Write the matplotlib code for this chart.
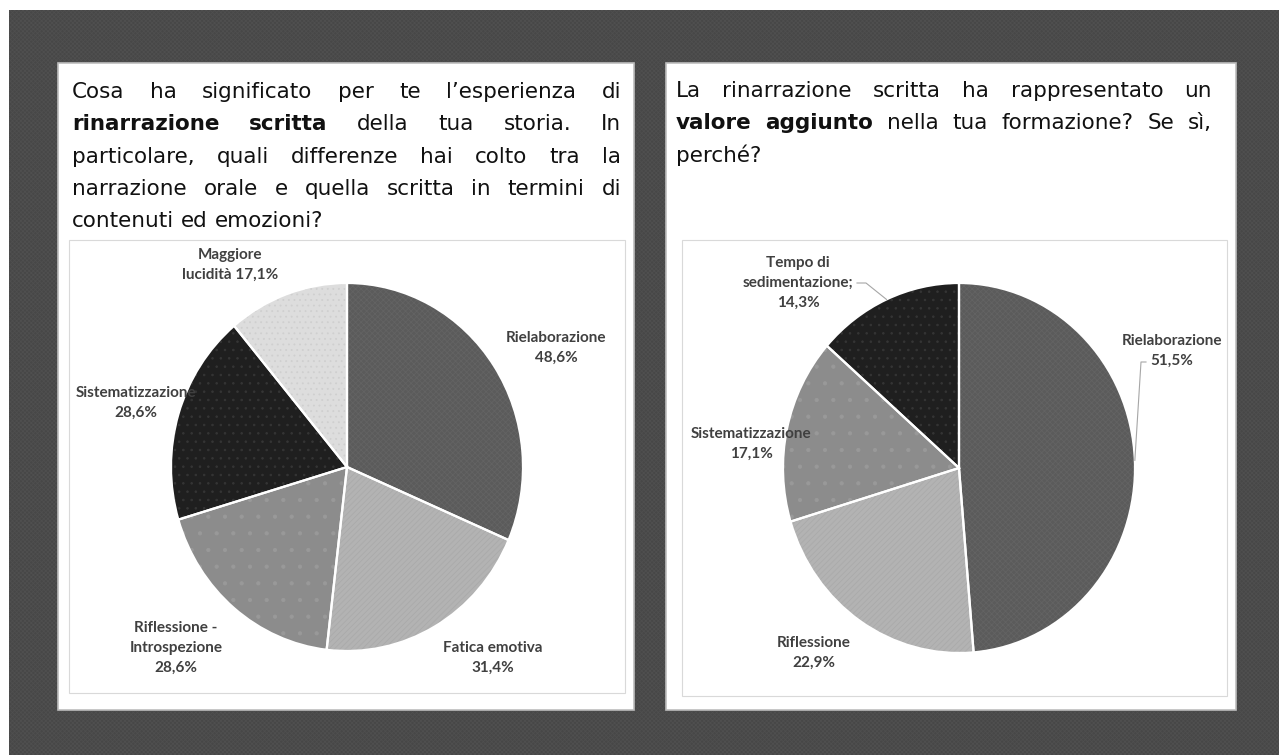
import matplotlib
matplotlib.use("Agg")
import matplotlib.pyplot as plt
from matplotlib.patches import Rectangle, Wedge
import numpy as np

# --- data -------------------------------------------------------------
left_names = ["Rielaborazione", "Fatica emotiva", "Riflessione -\nIntrospezione",
              "Sistematizzazione", "Maggiore\nlucidità"]
left_values = [48.6, 31.4, 28.6, 28.6, 17.1]
left_seps = ["\n", "\n", "\n", "\n", " "]

right_names = ["Rielaborazione", "Riflessione", "Sistematizzazione",
               "Tempo di\nsedimentazione;"]
right_values = [51.5, 22.9, 17.1, 14.3]
right_seps = ["\n", "\n", "\n", "\n"]

# '*' marks a bold word, second item says whether the line is justified
left_heading = [
    ("Cosa ha significato per te l’esperienza di", True),
    ("*rinarrazione *scritta della tua storia. In", True),
    ("particolare, quali differenze hai colto tra la", True),
    ("narrazione orale e quella scritta in termini di", True),
    ("contenuti ed emozioni?", False),
]
right_heading = [
    ("La rinarrazione scritta ha rappresentato un", True),
    ("*valore *aggiunto nella tua formazione? Se sì,", True),
    ("perché?", False),
]

# --- styling ----------------------------------------------------------
# fill colour, hatch, hatch colour
left_style = [("#5b5b5b", "xxxxxx", "#636363"),
              ("#b3b3b3", "//////", "#aaaaaa"),
              ("#8c8c8c", ".", "#999999"),
              ("#1f1f1f", "..", "#353535"),
              ("#dddddd", "...", "#cfcfcf")]
right_style = [left_style[0], left_style[1], left_style[2], left_style[3]]

# label centres in pixels
left_label_px = [(556, 348), (493, 658), (176, 648), (136, 403), (230, 265)]
right_label_px = [(1172, 351), (814, 653), (751, 444), (798, 283)]
# leader line points (pixels), ending on the slice edge
right_leaders = {0: [(1146, 362), (1141, 362)], 3: [(857, 283), (866, 283)]}

W, H = 1279, 755
plt.rcParams["hatch.linewidth"] = 0.6
fig = plt.figure(figsize=(W / 100, H / 100), dpi=100)
fig.patch.set_facecolor("white")


def fx(x):
    return x / W


def fy(y):
    return 1 - y / H


def box(x0, y0, x1, y1, z, **kw):
    fig.add_artist(Rectangle((fx(x0), fy(y1)), fx(x1) - fx(x0), fy(y0) - fy(y1),
                             transform=fig.transFigure, zorder=z, **kw))


# dark textured backdrop and the two white cards
box(9, 10, W, H, -3, facecolor="#474747", edgecolor="#4f4f4f", hatch="xxxxxxxx", lw=0)
box(58, 63, 634, 710, -2, facecolor="white", edgecolor="#bdbdbd", lw=1.2)
box(666, 63, 1236, 710, -2, facecolor="white", edgecolor="#bdbdbd", lw=1.2)
box(69, 240, 625, 693, -1, facecolor="none", edgecolor="#d9d9d9", lw=0.8)
box(682, 240, 1227, 696, -1, facecolor="none", edgecolor="#d9d9d9", lw=0.8)

renderer = fig.canvas.get_renderer()


def heading(lines, x0, x1, y_base, pitch, size=15.5):
    probe = fig.text(0, 0, "a a", fontsize=size)
    probe2 = fig.text(0, 0, "aa", fontsize=size)
    space = probe.get_window_extent(renderer).width - probe2.get_window_extent(renderer).width
    probe.remove()
    probe2.remove()
    for i, (line, justify) in enumerate(lines):
        y = fy(y_base + i * pitch)
        arts = []
        for word in line.split():
            bold = word.startswith("*")
            arts.append(fig.text(0, y, word.lstrip("*"), fontsize=size, va="baseline",
                                 color="#111111", fontweight="bold" if bold else "normal"))
        widths = [a.get_window_extent(renderer).width for a in arts]
        if justify and len(arts) > 1:
            gap = max(space, (x1 - x0 - sum(widths)) / (len(arts) - 1))
        else:
            gap = space
        x = x0
        for a, w in zip(arts, widths):
            a.set_x(fx(x))
            x += w + gap


def pie(box_px, center, radii, values, names, seps, styles, label_px, leaders):
    x0, y0, x1, y1 = box_px
    cx, cy = center
    rx, ry = radii
    ax = fig.add_axes([fx(x0), fy(y1), fx(x1) - fx(x0), fy(y0) - fy(y1)])
    ax.patch.set_alpha(0)
    wedges, _ = ax.pie(values, colors=[s[0] for s in styles], startangle=90,
                       counterclock=False, wedgeprops=dict(linewidth=0))
    for w, (_, hatch, hc) in zip(wedges, styles):
        ax.add_patch(Wedge(w.center, w.r, w.theta1, w.theta2, facecolor="none",
                           edgecolor=hc, hatch=hatch, lw=0))
    for w in wedges:
        ax.add_patch(Wedge(w.center, w.r, w.theta1, w.theta2, facecolor="none",
                           edgecolor="white", lw=1.6))
    ax.set_aspect("auto")
    ax.set_xlim((x0 - cx) / rx, (x1 - cx) / rx)
    ax.set_ylim((cy - y1) / ry, (cy - y0) / ry)
    ax.axis("off")

    def to_data(p):
        return (p[0] - cx) / rx, (cy - p[1]) / ry

    for name, sep, v, p in zip(names, seps, values, label_px):
        lx, ly = to_data(p)
        pct = f"{v:.1f}%".replace(".", ",")
        ax.text(lx, ly, name + sep + pct, ha="center", va="center",
                multialignment="center", fontsize=11, fontweight="bold",
                family="Lato", color="#404040", linespacing=1.5, zorder=5)

    for idx, pts in leaders.items():
        w = wedges[idx]
        mid = np.deg2rad((w.theta1 + w.theta2) / 2)
        xs = [to_data(p)[0] for p in pts] + [np.cos(mid)]
        ys = [to_data(p)[1] for p in pts] + [np.sin(mid)]
        ax.plot(xs, ys, color="#a6a6a6", lw=0.8, zorder=4)


heading(left_heading, 72, 621, 98, 32.3)
heading(right_heading, 676, 1212, 97, 32.3)

pie((69, 240, 625, 693), (347, 467), (176, 184), left_values, left_names, left_seps,
    left_style, left_label_px, {})
pie((682, 240, 1227, 696), (959, 468), (176, 185), right_values, right_names, right_seps,
    right_style, right_label_px, right_leaders)

fig.savefig("out.png", dpi=100)
